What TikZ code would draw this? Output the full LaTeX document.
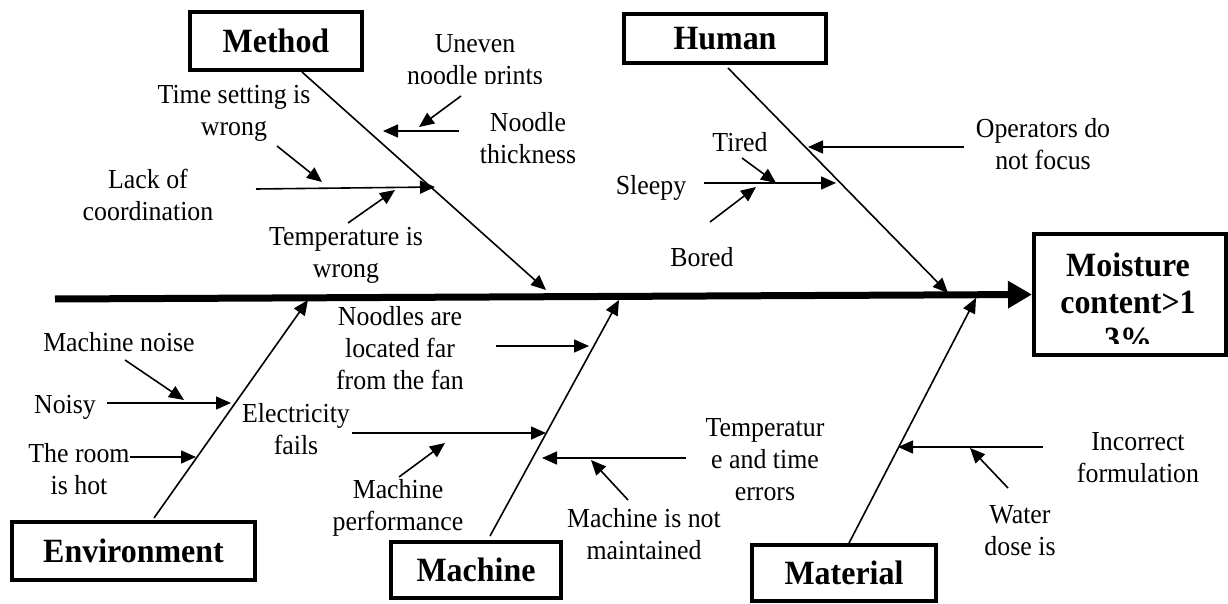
\documentclass[tikz,border=0pt]{standalone}
\usepackage{fontspec}
\setmainfont{Liberation Serif}[FakeStretch=0.94]
\usetikzlibrary{arrows.meta}
\begin{document}
\begin{tikzpicture}[x=1pt,y=-1pt,
  lbl/.style={font=\fontsize{27.5}{32}\selectfont, align=center, inner sep=0pt},
  catbox/.style={draw, line width=4pt, font=\bfseries\fontsize{34}{37}\selectfont, inner sep=0pt, align=center},
  cattext/.style={font=\bfseries\fontsize{34}{37}\selectfont, inner sep=0pt, align=center},
  bone/.style={line width=1.6pt, -{Triangle[length=15pt,width=13pt]}},
  sub/.style={line width=1.6pt, -{Triangle[length=15pt,width=13pt]}},
  spine/.style={line width=7pt, -{Triangle[length=24pt,width=26pt]}}
]
\useasboundingbox (0,0) rectangle (1228,604);

% category boxes
\node[catbox, minimum width=172pt, minimum height=58pt] (method) at (276,41) {Method};
\node[catbox, minimum width=202pt, minimum height=49pt] (human) at (725,38.5) {Human};
\node[catbox, minimum width=243pt, minimum height=58pt] (env) at (133.5,551) {Environment};
\node[catbox, minimum width=170pt, minimum height=56pt] (machine) at (476,570) {Machine};
\node[catbox, minimum width=184pt, minimum height=56pt] (material) at (844,573) {Material};
\node[catbox, minimum width=192pt, minimum height=121pt] (moist) at (1130,294.5) {};
\begin{scope}
  \clip (1034,234) rectangle (1226,343);
  \node[cattext] (moisttext) at (1128,302) {Moisture\\content>1\\3\%};
\end{scope}

% spine
\coordinate (sp0) at (55,299);
\draw[spine] (sp0) -- (moist.west);

% bone ends
\coordinate (mS) at (302,72);   \coordinate (mE) at (546,290);
\coordinate (hS) at (728,68);   \coordinate (hE) at (948,293);
\coordinate (eS) at (154,518);  \coordinate (eE) at (308,300);
\coordinate (cS) at (490,536);  \coordinate (cE) at (619,300);
\coordinate (tS) at (848,545);  \coordinate (tE) at (976,298);
\draw[bone] (mS) -- (mE);
\draw[bone] (hS) -- (hE);
\draw[bone] (eS) -- (eE);
\draw[bone] (cS) -- (cE);
\draw[bone] (tS) -- (tE);

% labels
\begin{scope}
  \clip (380,20) rectangle (580,84);
  \node[lbl] (uneven) at (475,62.5) {Uneven\\noodle prints};
\end{scope}
\node[lbl] (thick) at (528,138) {Noodle\\thickness};
\node[lbl] (timeset) at (234,113.5) {Time setting is\\wrong};
\node[lbl] (lack) at (148,195) {Lack of\\coordination};
\node[lbl] (tempw) at (346,255) {Temperature is\\wrong};
\node[lbl] (oper) at (1043,144.5) {Operators do\\not focus};
\node[lbl] (tired) at (740,142) {Tired};
\node[lbl] (sleepy) at (651,188) {Sleepy};
\node[lbl] (bored) at (702,257) {Bored};
\node[lbl] (mnoise) at (119,342) {Machine noise};
\node[lbl] (noisy) at (65,407) {Noisy};
\node[lbl] (room) at (79,469) {The room\\is hot};
\node[lbl] (far) at (400,348.5) {Noodles are\\located far\\from the fan};
\node[lbl] (elec) at (296,429) {Electricity\\fails};
\node[lbl] (perf) at (398,507.5) {Machine\\performance};
\node[lbl] (tterr) at (765,459.5) {Temperatur\\e and time\\errors};
\node[lbl] (maint) at (644,534) {Machine is not\\maintained};
\node[lbl] (incorr) at (1138,457.5) {Incorrect\\formulation};
\node[lbl] (water) at (1020,531) {Water\\dose is};

% sub-cause arrows
\coordinate (a1s) at (461,96);  \coordinate (a1e) at (419,127);
\coordinate (a2s) at (459,131); \coordinate (a2e) at (383,131);
\coordinate (a3s) at (277,146); \coordinate (a3e) at (322,182);
\coordinate (a4s) at (256,189); \coordinate (a4e) at (435,187);
\coordinate (a5s) at (348,223); \coordinate (a5e) at (395,190);
\coordinate (b1s) at (964,147); \coordinate (b1e) at (808,147);
\coordinate (b2s) at (742,158); \coordinate (b2e) at (776,183);
\coordinate (b3s) at (704,183); \coordinate (b3e) at (836,183);
\coordinate (b4s) at (710,222); \coordinate (b4e) at (756,187);
\coordinate (c1s) at (125,360); \coordinate (c1e) at (184,400);
\coordinate (c2s) at (107,403); \coordinate (c2e) at (231,403);
\coordinate (c3s) at (130,457); \coordinate (c3e) at (196,457);
\coordinate (d1s) at (496,346); \coordinate (d1e) at (589,346);
\coordinate (d2s) at (352,433); \coordinate (d2e) at (546,433);
\coordinate (d3s) at (399,477); \coordinate (d3e) at (445,443);
\coordinate (d4s) at (686,458); \coordinate (d4e) at (542,458);
\coordinate (d5s) at (628,500); \coordinate (d5e) at (591,460);
\coordinate (e1s) at (1043,447); \coordinate (e1e) at (898,447);
\coordinate (e2s) at (1008,488); \coordinate (e2e) at (970,448);
\foreach \p in {a1,a2,a3,a4,a5,b1,b2,b3,b4,c1,c2,c3,d1,d2,d3,d4,d5,e1,e2}
  \draw[sub] (\p s) -- (\p e);
\end{tikzpicture}
\end{document}
